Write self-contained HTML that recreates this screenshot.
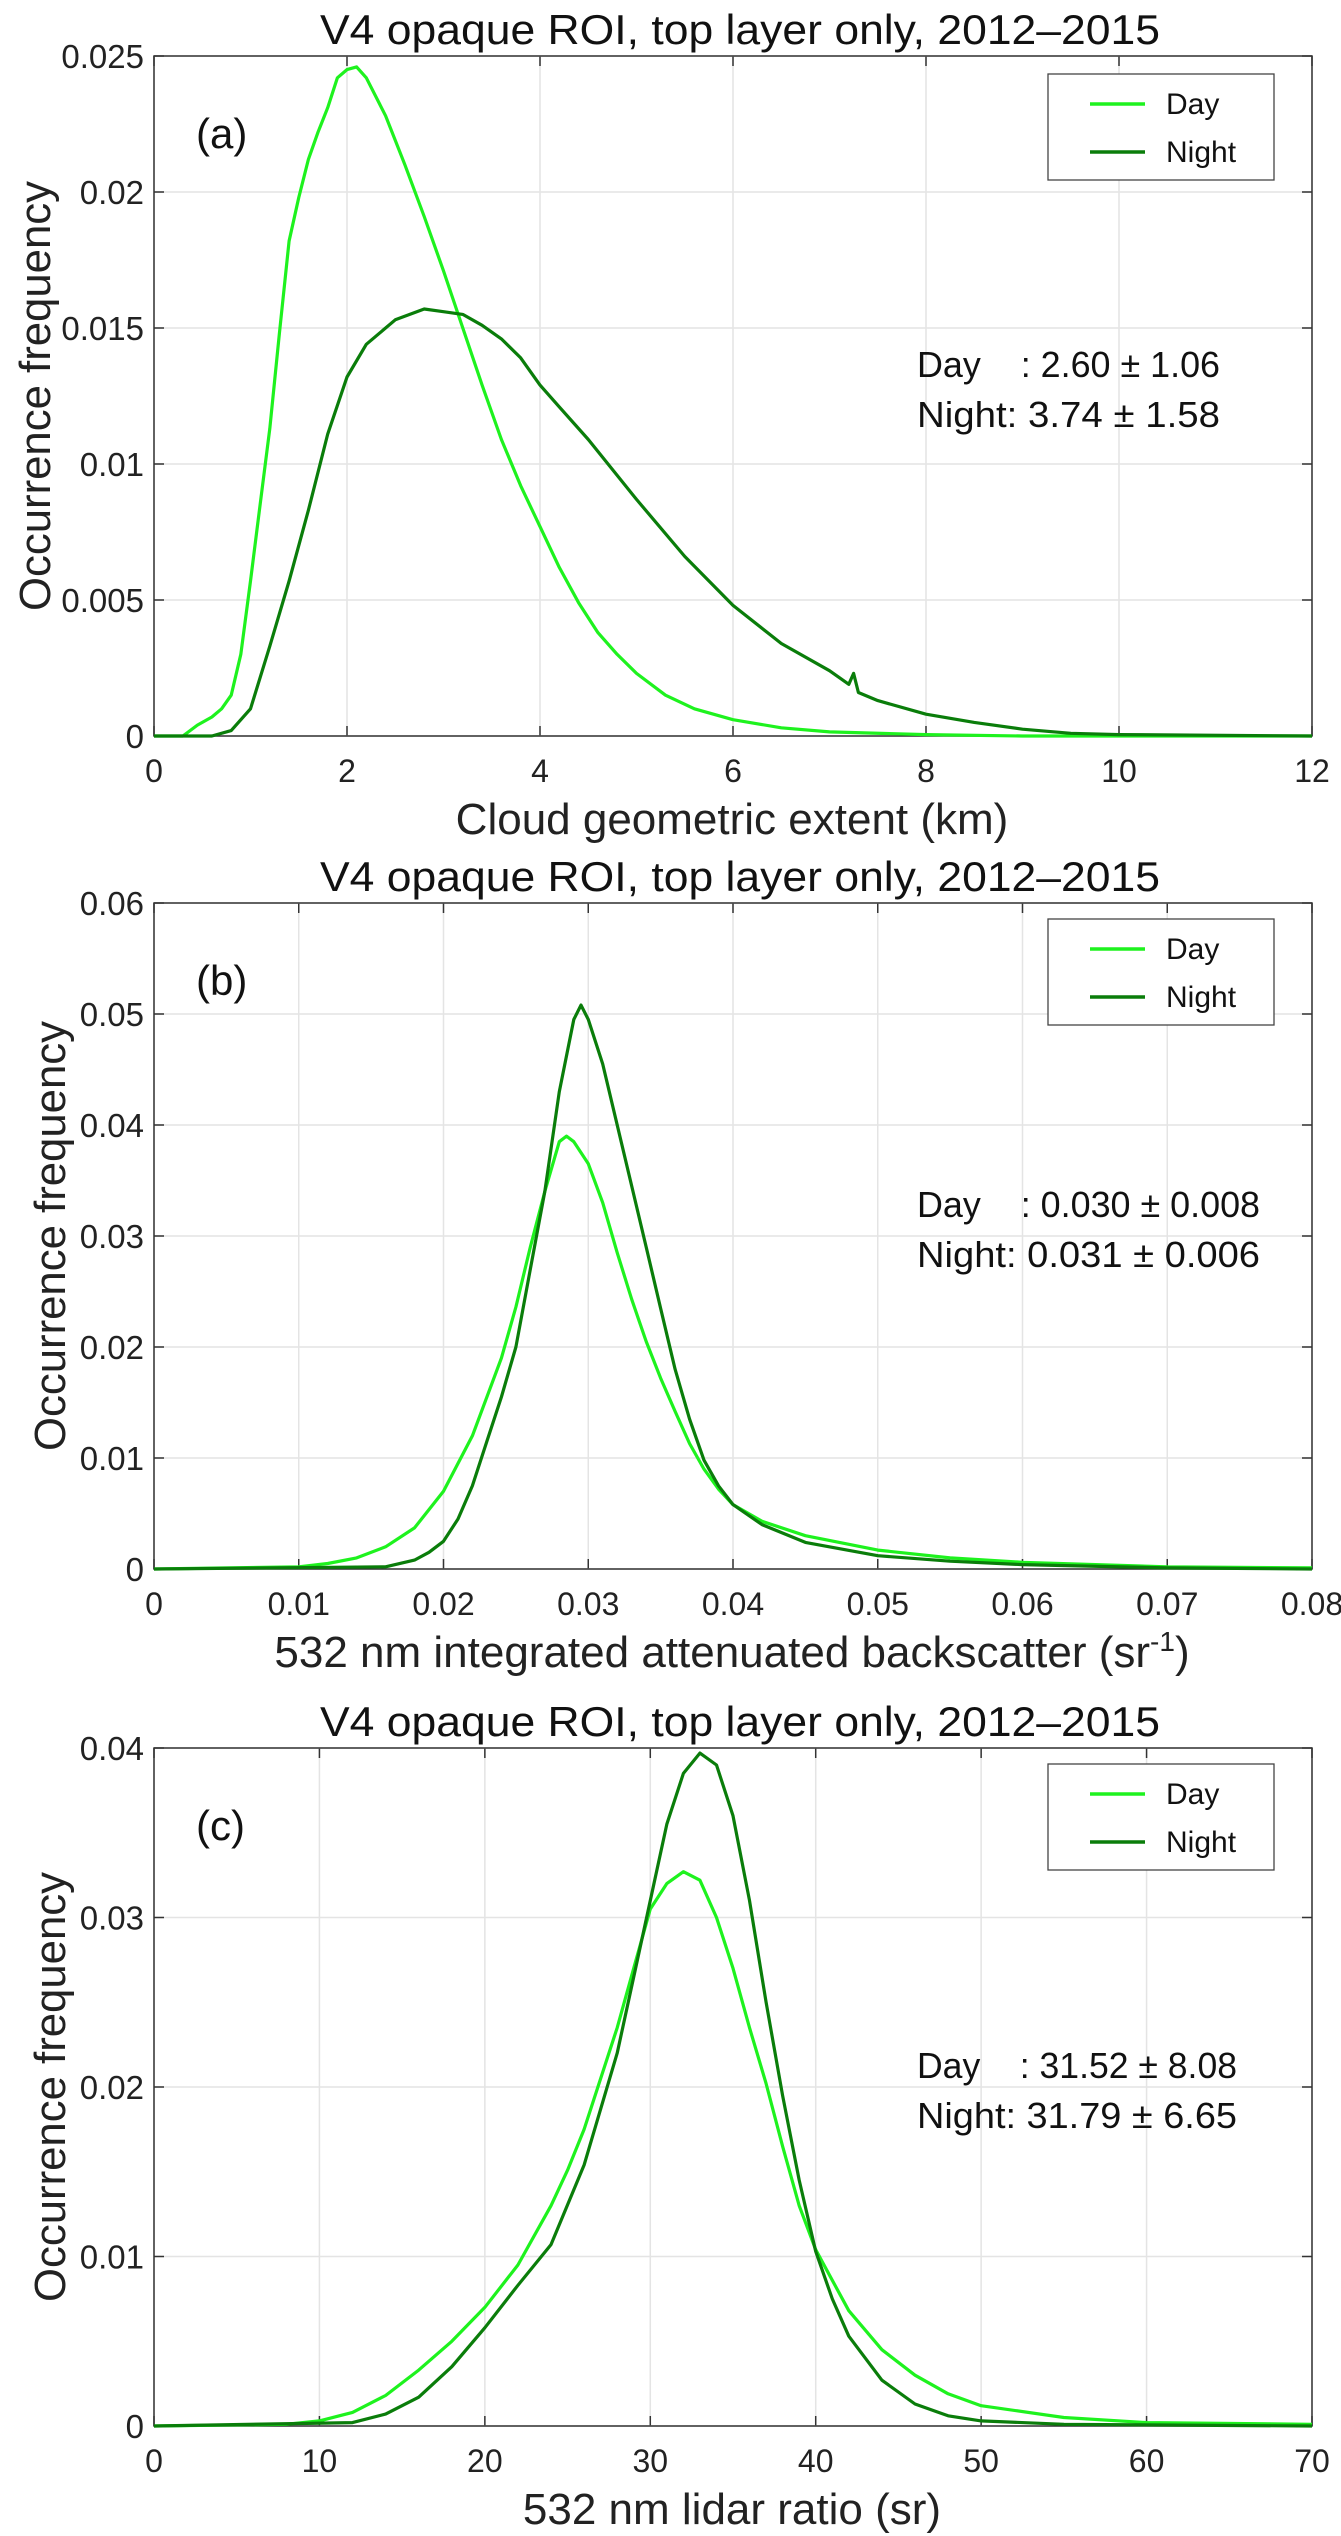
<!DOCTYPE html>
<html><head><meta charset="utf-8">
<style>
html,body{margin:0;padding:0;background:#fff;}
svg{display:block;font-family:"Liberation Sans",sans-serif;}
.pre{white-space:pre;}
</style></head>
<body>
<svg id="fig" width="1341" height="2536" viewBox="0 0 1341 2536" xmlns="http://www.w3.org/2000/svg"></svg>
<script>
// Panel (a) data
const aDayX=[0,0.3,0.45,0.6,0.7,0.8,0.9,1.0,1.1,1.2,1.3,1.4,1.5,1.6,1.7,1.8,1.9,2.0,2.1,2.2,2.4,2.6,2.8,3.0,3.2,3.4,3.6,3.8,4.0,4.2,4.4,4.6,4.8,5.0,5.3,5.6,6.0,6.5,7.0,8.0,9.0,12];
const aDayY=[0,0,0.0004,0.0007,0.001,0.0015,0.003,0.0057,0.0085,0.0113,0.0148,0.0182,0.0198,0.0212,0.0222,0.0231,0.0242,0.0245,0.0246,0.0242,0.0228,0.021,0.0191,0.0171,0.015,0.0129,0.0109,0.0092,0.0077,0.0062,0.0049,0.0038,0.003,0.0023,0.0015,0.001,0.0006,0.0003,0.00015,0.00005,0,0];
const aNightX=[0,0.6,0.8,1.0,1.2,1.4,1.6,1.8,2.0,2.2,2.5,2.8,3.0,3.2,3.4,3.6,3.8,4.0,4.2,4.5,5.0,5.5,6.0,6.5,7.0,7.2,7.25,7.3,7.5,8.0,8.5,9.0,9.5,10,12];
const aNightY=[0,0,0.0002,0.001,0.0033,0.0057,0.0083,0.0111,0.0132,0.0144,0.0153,0.0157,0.0156,0.0155,0.0151,0.0146,0.0139,0.0129,0.0121,0.0109,0.0087,0.0066,0.0048,0.0034,0.0024,0.0019,0.0023,0.0016,0.0013,0.0008,0.0005,0.00025,0.0001,0.00005,0];
const aXTicks=[0,2,4,6,8,10,12];
const aYTicks=[0,0.005,0.01,0.015,0.02,0.025];
const aYLabels=["0","0.005","0.01","0.015","0.02","0.025"];
// Panel (b) data
const bDayX=[0,0.01,0.012,0.014,0.016,0.018,0.020,0.022,0.024,0.025,0.026,0.027,0.028,0.0285,0.029,0.030,0.031,0.032,0.033,0.034,0.035,0.036,0.037,0.038,0.039,0.040,0.042,0.045,0.05,0.055,0.06,0.07,0.08];
const bDayY=[0,0.0002,0.0005,0.001,0.002,0.0037,0.007,0.012,0.019,0.0236,0.029,0.034,0.0385,0.039,0.0385,0.0365,0.033,0.0285,0.0243,0.0205,0.0172,0.0142,0.0113,0.009,0.0072,0.0058,0.0043,0.003,0.0017,0.001,0.0006,0.0002,0.0001];
const bNightX=[0,0.016,0.018,0.019,0.020,0.021,0.022,0.023,0.024,0.025,0.026,0.027,0.028,0.029,0.0295,0.030,0.031,0.032,0.033,0.034,0.035,0.036,0.037,0.038,0.039,0.040,0.042,0.045,0.05,0.055,0.06,0.07,0.08];
const bNightY=[0,0.0002,0.0008,0.0015,0.0025,0.0045,0.0075,0.0115,0.0155,0.020,0.027,0.034,0.043,0.0495,0.0508,0.0495,0.0455,0.040,0.0345,0.029,0.0235,0.018,0.0135,0.0098,0.0075,0.0058,0.004,0.0024,0.0012,0.0007,0.0004,0.0001,0];
const bXTicks=[0,0.01,0.02,0.03,0.04,0.05,0.06,0.07,0.08];
const bXLabels=["0","0.01","0.02","0.03","0.04","0.05","0.06","0.07","0.08"];
const bYTicks=[0,0.01,0.02,0.03,0.04,0.05,0.06];
const bYLabels=["0","0.01","0.02","0.03","0.04","0.05","0.06"];
// Panel (c) data
const cDayX=[0,8,10,12,14,16,18,20,22,24,25,26,28,29,30,31,32,33,34,35,36,37,38,39,40,42,44,46,48,50,55,60,70];
const cDayY=[0,0.0001,0.0003,0.0008,0.0018,0.0033,0.005,0.007,0.0095,0.013,0.0151,0.0175,0.0235,0.027,0.0305,0.032,0.0327,0.0322,0.030,0.027,0.0235,0.0202,0.0165,0.013,0.0104,0.0068,0.0045,0.003,0.0019,0.0012,0.0005,0.0002,0.0001];
const cNightX=[0,12,14,16,18,20,22,24,26,28,30,31,32,33,34,35,36,37,38,39,40,41,42,44,46,48,50,55,70];
const cNightY=[0,0.0002,0.0007,0.0017,0.0035,0.0058,0.0083,0.0107,0.0154,0.022,0.031,0.0355,0.0385,0.0397,0.039,0.036,0.031,0.025,0.0195,0.0145,0.0103,0.0075,0.0053,0.0027,0.0013,0.0006,0.0003,0.0001,0];
const cXTicks=[0,10,20,30,40,50,60,70];
const cYTicks=[0,0.01,0.02,0.03,0.04];
const cYLabels=["0","0.01","0.02","0.03","0.04"];

const NS="http://www.w3.org/2000/svg";
const svg=document.getElementById('fig');
function mk(tag,attrs,parent,text){
  const e=document.createElementNS(NS,tag);
  for(const k in attrs)e.setAttribute(k,attrs[k]);
  if(text!==undefined)e.textContent=text;
  (parent||svg).appendChild(e);return e;
}
const L=154,R=1312;
function panel(o){
  const g=mk('g',{});
  
  
  const sx=v=>L+(v-o.xmin)/(o.xmax-o.xmin)*(R-L);
  const sy=v=>o.bot-(v-o.ymin)/(o.ymax-o.ymin)*(o.bot-o.top);
  const t=mk('text',{x:740,y:o.top-12,'text-anchor':'middle','font-size':42,textLength:840,lengthAdjust:'spacingAndGlyphs',fill:'#111'},g,'V4 opaque ROI, top layer only, 2012\u20132015');
  
  
  o.xt.forEach((v,i)=>{
    const x=sx(v);
    const gl=mk('line',{x1:x,x2:x,y1:o.top,y2:o.bot,stroke:'#e4e4e4','stroke-width':1.5},g);
    
    
    mk('line',{x1:x,x2:x,y1:o.bot,y2:o.bot-10,stroke:'#333','stroke-width':1.5},g);
    mk('line',{x1:x,x2:x,y1:o.top,y2:o.top+10,stroke:'#333','stroke-width':1.5},g);
    const tl=mk('text',{x:x,y:o.bot+46,'text-anchor':'middle','font-size':32,fill:'#222'},g,o.xl[i]);
    
    
  });
  o.yt.forEach((v,i)=>{
    const y=sy(v);
    const gl=mk('line',{x1:L,x2:R,y1:y,y2:y,stroke:'#e4e4e4','stroke-width':1.5},g);
    
    
    mk('line',{x1:L,x2:L+10,y1:y,y2:y,stroke:'#333','stroke-width':1.5},g);
    mk('line',{x1:R,x2:R-10,y1:y,y2:y,stroke:'#333','stroke-width':1.5},g);
    const tl=mk('text',{x:L-10,y:y+12,'text-anchor':'end','font-size':33,fill:'#222'},g,o.yl[i]);
    
    
  });
  const fr=mk('rect',{x:L,y:o.top,width:R-L,height:o.bot-o.top,fill:'none',stroke:'#333','stroke-width':1.5},g);
  
  
  const series=[[o.dx,o.dy,'#1ef21e','day-line'],[o.nx,o.ny,'#0a7d0a','night-line']];
  series.forEach(s=>{
    const pts=s[0].map((v,i)=>sx(v).toFixed(1)+','+sy(s[1][i]).toFixed(1)).join(' ');
    const p=mk('polyline',{points:pts,fill:'none',stroke:s[2],'stroke-width':3.2,'stroke-linejoin':'round'},g);
    
    
  });
  const yl=mk('text',{x:0,y:0,transform:`translate(${o.ylx},${(o.top+o.bot)/2}) rotate(-90)`,'text-anchor':'middle','font-size':44,textLength:430,lengthAdjust:'spacingAndGlyphs',fill:'#222'},g,'Occurrence frequency');
  
  
  const xl=mk('text',{x:o.xlc,y:o.bot+98,'text-anchor':'middle','font-size':44,fill:'#222'},g);
  
  
  xl.textContent=o.xlabel;
  if(o.sup){mk('tspan',{dy:-16,'font-size':28},xl,o.sup);mk('tspan',{dy:16},xl,')');}
  const pl=mk('text',{x:196,y:o.top+92,'font-size':42,fill:'#111'},g,o.tag);
  
  
  const lg=mk('g',{},g);
  
  
  const ly=o.top+o.legOff;
  mk('rect',{x:1048,y:ly,width:226,height:106,fill:'#fff',stroke:'#444','stroke-width':1.3},lg);
  [['Day','#1ef21e'],['Night','#0a7d0a']].forEach((e,i)=>{
    const yy=ly+30+i*48;
    const le=mk('g',{},lg);
    
    
    mk('line',{x1:1090,x2:1145,y1:yy,y2:yy,stroke:e[1],'stroke-width':3.5},le);
    mk('text',{x:1166,y:yy+10,'font-size':30,fill:'#111'},le,e[0]);
  });
  const st=mk('g',{},g);
  
  
  mk('text',{x:917,y:o.top+o.statOff,'font-size':36,'class':'pre',textLength:o.sw,lengthAdjust:'spacingAndGlyphs',fill:'#111'},st,o.s1);
  mk('text',{x:917,y:o.top+o.statOff+50,'font-size':36,textLength:o.sw,lengthAdjust:'spacingAndGlyphs',fill:'#111'},st,o.s2);
}
panel({name:'panel-a',top:56,bot:736,xmin:0,xmax:12,ymin:0,ymax:0.025,xt:aXTicks,xl:aXTicks.map(String),yt:aYTicks,yl:aYLabels,
 dx:aDayX,dy:aDayY,nx:aNightX,ny:aNightY,ylx:50,xlabel:'Cloud geometric extent (km)',xlc:732,tag:'(a)',legOff:18,statOff:321,sw:303,
 s1:'Day    : 2.60 \u00b1 1.06',s2:'Night: 3.74 \u00b1 1.58'});
panel({name:'panel-b',top:903,bot:1569,xmin:0,xmax:0.08,ymin:0,ymax:0.06,xt:bXTicks,xl:bXLabels,yt:bYTicks,yl:bYLabels,
 dx:bDayX,dy:bDayY,nx:bNightX,ny:bNightY,ylx:65,xlabel:'532 nm integrated attenuated backscatter (sr',xlc:732,sup:'-1',tag:'(b)',legOff:16,statOff:314,sw:343,
 s1:'Day    : 0.030 \u00b1 0.008',s2:'Night: 0.031 \u00b1 0.006'});
panel({name:'panel-c',top:1748,bot:2426,xmin:0,xmax:70,ymin:0,ymax:0.04,xt:cXTicks,xl:cXTicks.map(String),yt:cYTicks,yl:cYLabels,
 dx:cDayX,dy:cDayY,nx:cNightX,ny:cNightY,ylx:65,xlabel:'532 nm lidar ratio (sr)',xlc:732,tag:'(c)',legOff:16,statOff:330,sw:320,
 s1:'Day    : 31.52 \u00b1 8.08',s2:'Night: 31.79 \u00b1 6.65'});
</script>
</body></html>
